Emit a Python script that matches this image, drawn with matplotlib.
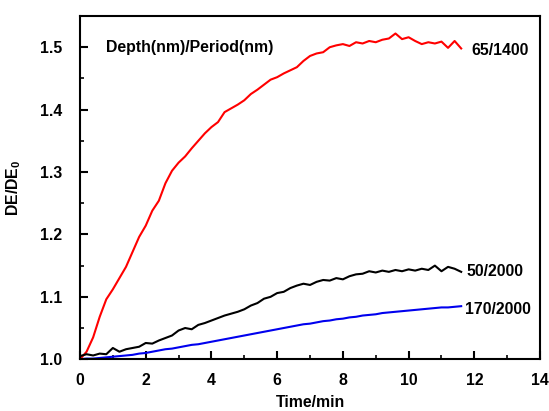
import matplotlib
matplotlib.use("Agg")
import matplotlib.pyplot as plt
from matplotlib.ticker import MultipleLocator

plt.rcParams["font.family"] = ["Liberation Sans", "DejaVu Sans"]
plt.rcParams["font.weight"] = "bold"
plt.rcParams["mathtext.fontset"] = "custom"
plt.rcParams["mathtext.rm"] = "Liberation Sans:bold"
plt.rcParams["mathtext.bf"] = "Liberation Sans:bold"

FS = 11.4

# ── data ──────────────────────────────────────────────────────────────────────
time_min = [0.0, 0.2, 0.4, 0.6, 0.8, 1.0, 1.2, 1.4, 1.6, 1.8,
            2.0, 2.2, 2.4, 2.6, 2.8, 3.0, 3.2, 3.4, 3.6, 3.8,
            4.0, 4.2, 4.4, 4.6, 4.8, 5.0, 5.2, 5.4, 5.6, 5.8,
            6.0, 6.2, 6.4, 6.6, 6.8, 7.0, 7.2, 7.4, 7.6, 7.8,
            8.0, 8.2, 8.4, 8.6, 8.8, 9.0, 9.2, 9.4, 9.6, 9.8,
            10.0, 10.2, 10.4, 10.6, 10.8, 11.0, 11.2, 11.4, 11.6]

de_65_1400 = [1.000, 1.012, 1.035, 1.068, 1.096, 1.112, 1.130, 1.148, 1.172, 1.196,
              1.214, 1.238, 1.254, 1.282, 1.302, 1.315, 1.325, 1.338, 1.350, 1.362,
              1.372, 1.380, 1.396, 1.402, 1.408, 1.415, 1.425, 1.432, 1.440, 1.448,
              1.452, 1.458, 1.463, 1.468, 1.478, 1.486, 1.490, 1.492, 1.500, 1.503,
              1.505, 1.502, 1.508, 1.506, 1.510, 1.508, 1.512, 1.514, 1.522, 1.513,
              1.516, 1.510, 1.505, 1.508, 1.506, 1.509, 1.499, 1.510, 1.498]

de_50_2000 = [1.005, 1.008, 1.006, 1.009, 1.008, 1.018, 1.012, 1.016, 1.018, 1.020,
              1.026, 1.025, 1.030, 1.034, 1.038, 1.046, 1.050, 1.048, 1.055, 1.058,
              1.062, 1.066, 1.070, 1.073, 1.076, 1.080, 1.086, 1.090, 1.097, 1.100,
              1.106, 1.108, 1.114, 1.118, 1.121, 1.119, 1.124, 1.127, 1.126, 1.130,
              1.128, 1.133, 1.136, 1.137, 1.141, 1.139, 1.142, 1.140, 1.143, 1.141,
              1.144, 1.142, 1.145, 1.143, 1.150, 1.141, 1.148, 1.145, 1.140]

de_170_2000 = [1.000, 1.001, 1.001, 1.002, 1.003, 1.004, 1.005, 1.006, 1.007, 1.009,
               1.010, 1.012, 1.014, 1.016, 1.017, 1.019, 1.021, 1.023, 1.024, 1.026,
               1.028, 1.030, 1.032, 1.034, 1.036, 1.038, 1.040, 1.042, 1.044, 1.046,
               1.048, 1.050, 1.052, 1.054, 1.056, 1.057, 1.059, 1.061, 1.062, 1.064,
               1.065, 1.067, 1.068, 1.070, 1.071, 1.072, 1.074, 1.075, 1.076, 1.077,
               1.078, 1.079, 1.080, 1.081, 1.082, 1.083, 1.083, 1.084, 1.085]

labels = ["65/1400", "50/2000", "170/2000"]
label_x = [11.9, 11.77, 11.72]
label_y = [1.494, 1.140, 1.079]

# ── plot ───────────────────────────────────────────────────────────────────────
fig = plt.figure(figsize=(5.49, 4.11), dpi=100)
ax = fig.add_axes([0.1457, 0.126, 0.838, 0.835])

ax.plot(time_min, de_65_1400, color="#ff0000", lw=1.5)
ax.plot(time_min, de_50_2000, color="#000000", lw=1.5)
ax.plot(time_min, de_170_2000, color="#0000ee", lw=1.5)

for lab, x, y in zip(labels, label_x, label_y):
    ax.text(x, y, lab, fontsize=FS, fontweight="bold", va="center", ha="left")

ax.text(0.8, 1.5, "Depth(nm)/Period(nm)", fontsize=FS, fontweight="bold",
        va="center", ha="left")

ax.set_xlim(0, 14)
ax.set_ylim(1.0, 1.55)
ax.xaxis.set_major_locator(MultipleLocator(2))
ax.xaxis.set_minor_locator(MultipleLocator(1))
ax.yaxis.set_major_locator(MultipleLocator(0.1))
ax.yaxis.set_minor_locator(MultipleLocator(0.05))
ax.tick_params(which="major", direction="in", length=6, width=1.5, labelsize=FS)
ax.tick_params(which="minor", direction="in", length=3, width=1.2)
ax.tick_params(axis="y", which="major", pad=13)
ax.tick_params(axis="x", which="major", pad=10)
for lab in ax.get_xticklabels() + ax.get_yticklabels():
    lab.set_fontweight("bold")
for sp in ax.spines.values():
    sp.set_linewidth(1.5)

ax.set_xlabel("Time/min", fontsize=FS, fontweight="bold", labelpad=5)
ax.set_ylabel(r"DE/DE$_{\mathbf{0}}$", fontsize=FS, fontweight="bold", labelpad=12)

fig.savefig("out.png", dpi=100)
